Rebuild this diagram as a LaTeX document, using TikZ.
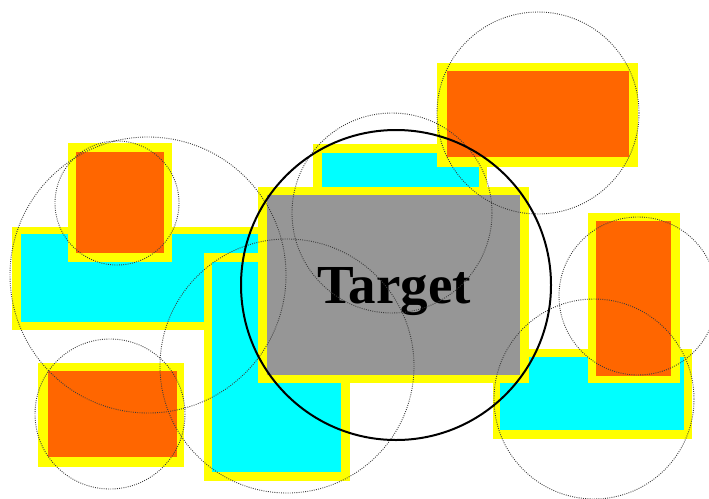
\documentclass[tikz,border=0pt]{standalone}
\usepackage{fontspec}
\setmainfont{Liberation Serif}
\definecolor{bordery}{RGB}{255,255,0}
\definecolor{fillcy}{RGB}{0,255,255}
\definecolor{fillor}{RGB}{255,102,0}
\definecolor{fillgr}{RGB}{150,150,150}
\definecolor{dotgr}{RGB}{60,60,60}
\tikzset{
  outerbox/.style={fill=bordery},
  cybox/.style={fill=fillcy},
  orbox/.style={fill=fillor},
  grbox/.style={fill=fillgr},
  dotring/.style={draw=dotgr, line width=0.9pt, dash pattern=on 0.9pt off 1.3pt},
  mainring/.style={draw=black, line width=2pt},
  targetlabel/.style={font=\bfseries\fontsize{55}{60}\selectfont, text=black, inner sep=0pt, anchor=base}
}
\begin{document}
\begin{tikzpicture}[x=1pt,y=-1pt]
\useasboundingbox (0,0) rectangle (709,498);
% left horizontal cyan
\fill[outerbox] (12,227) rectangle (266,330);
\fill[cybox] (21,234) rectangle (258,322);
% vertical cyan
\fill[outerbox] (204,253) rectangle (350,481);
\fill[cybox] (212,262) rectangle (341,472);
% top cyan
\fill[outerbox] (313,144) rectangle (487,280);
\fill[cybox] (322,153) rectangle (479,272);
% right cyan
\fill[outerbox] (493,349) rectangle (692,439);
\fill[cybox] (500,357) rectangle (684,430);
% target
\fill[outerbox] (258,187) rectangle (529,383);
\fill[grbox] (267,195) rectangle (520,375);
% oranges
\fill[outerbox] (68,143) rectangle (172,262);
\fill[orbox] (76,152) rectangle (164,253);
\fill[outerbox] (437,63) rectangle (638,167);
\fill[orbox] (447,71) rectangle (629,157);
\fill[outerbox] (588,213) rectangle (680,383);
\fill[orbox] (596,221) rectangle (671,376);
\fill[outerbox] (38,363) rectangle (184,467);
\fill[orbox] (48,371) rectangle (177,457);
% label
\node[targetlabel] (target) at (394,303) {Target};
% dotted circles
\draw[dotring] (117,203) circle[radius=62];
\draw[dotring] (148,275) circle[radius=138];
\draw[dotring] (287,366) circle[radius=127];
\draw[dotring] (392,213) circle[radius=100];
\draw[dotring] (538,113) circle[radius=101];
\draw[dotring] (638,296) circle[radius=79];
\draw[dotring] (594,399) circle[radius=100];
\draw[dotring] (110,414) circle[radius=75];
% main circle
\draw[mainring] (396,285) circle[radius=155];
\end{tikzpicture}
\end{document}
